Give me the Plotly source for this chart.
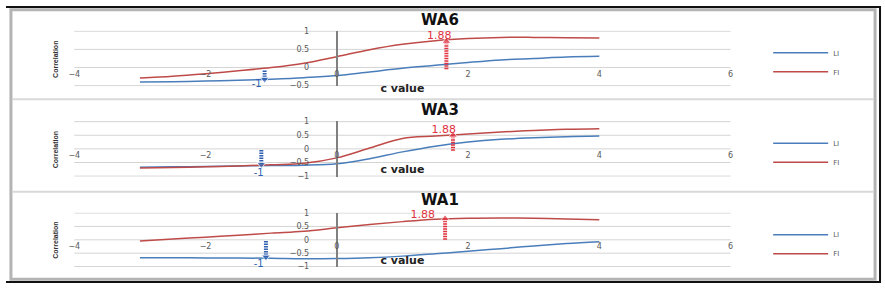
import plotly.graph_objects as go

# ---------------- data ----------------
c_values = [-3, -2.5, -2, -1.5, -1, -0.5, 0, 0.5, 1, 1.5, 2, 2.5, 3, 3.5, 4]
panel_titles = ["WA6", "WA3", "WA1"]

wa6_li = [-0.40, -0.39, -0.37, -0.35, -0.32, -0.28, -0.22, -0.12, -0.02, 0.06, 0.14, 0.21, 0.25, 0.29, 0.31]
wa6_fi = [-0.29, -0.24, -0.17, -0.09, 0.00, 0.12, 0.30, 0.49, 0.64, 0.74, 0.80, 0.83, 0.83, 0.82, 0.81]

wa3_li = [-0.67, -0.66, -0.65, -0.63, -0.61, -0.60, -0.55, -0.36, -0.11, 0.10, 0.25, 0.35, 0.41, 0.45, 0.47]
wa3_fi = [-0.70, -0.68, -0.66, -0.63, -0.58, -0.53, -0.33, 0.03, 0.38, 0.47, 0.55, 0.62, 0.68, 0.72, 0.74]

wa1_li = [-0.67, -0.67, -0.68, -0.68, -0.69, -0.71, -0.70, -0.67, -0.61, -0.52, -0.43, -0.33, -0.23, -0.14, -0.07]
wa1_fi = [-0.04, 0.03, 0.10, 0.17, 0.25, 0.32, 0.45, 0.57, 0.68, 0.77, 0.81, 0.82, 0.81, 0.78, 0.75]

li_series = [wa6_li, wa3_li, wa1_li]
fi_series = [wa6_fi, wa3_fi, wa1_fi]

x_ticks = [-4, -2, 0, 2, 4, 6]
x_range = [-4, 6]
y_ranges = [[-0.5, 1], [-1, 1], [-1, 1]]
y_ticks = [[-0.5, 0, 0.5, 1], [-1, -0.5, 0, 0.5, 1], [-1, -0.5, 0, 0.5, 1]]

# highlighted points (dotted arrows) and their labels
fi_mark_x = [1.67, 1.77, 1.65]
fi_mark_from = [-0.05, -0.07, 0.00]
fi_mark_to = [0.72, 0.50, 0.79]
fi_label = "1.88"
fi_label_x = [1.56, 1.63, 1.31]
fi_label_y = [0.86, 0.68, 0.93]

li_mark_x = [-1.10, -1.15, -1.08]
li_mark_from = [-0.08, -0.04, -0.04]
li_mark_to = [-0.32, -0.57, -0.64]
li_label = "-1"
li_label_x = [-1.22, -1.19, -1.19]
li_label_y = [-0.48, -0.89, -0.93]

# ---------------- layout geometry (pixels) ----------------
W, H = 885, 290
plot_left, plot_right = 69, 732
panel_px = [(28, 84), (121, 177), (215, 270)]      # pixel rows of top / bottom tick
title_px = [16, 109, 202]
ylabel_px = [57, 150, 243]
legend_px = [60, 153, 247]
PAD = 0.02  # small range padding

BLUE = "#4a7ebb"
RED = "#be4b48"
ARROW_RED = "#e0313f"
ARROW_BLUE = "#2f5fb0"
GRID = "#d4d4d4"
TICK_FONT = dict(family="DejaVu Sans", size=8, color="#595959")


def px_x(p):
    return p / W


def px_y(p):
    return 1 - p / H


fig = go.Figure()
layout = dict(
    width=W, height=H, autosize=False,
    margin=dict(l=0, r=0, t=0, b=0),
    paper_bgcolor="white", plot_bgcolor="white",
    showlegend=True,
)
annotations = []
shapes = []

xdom = [px_x(plot_left), px_x(plot_right)]

for i in range(3):
    sfx = "" if i == 0 else str(i + 1)
    xa, ya = "x" + sfx, "y" + sfx
    leg = "legend" + sfx
    top, bot = panel_px[i]
    y0, y1 = y_ranges[i]
    scale = (bot - top) / (y1 - y0)           # pixels per unit
    rng = [y0 - PAD, y1 + PAD]
    ydom = [px_y(bot + PAD * scale), px_y(top - PAD * scale)]
    # paper position of y = 0 and x = 0
    ypos = ydom[0] + (0 - rng[0]) / (rng[1] - rng[0]) * (ydom[1] - ydom[0])
    xpos = xdom[0] + (0 - x_range[0]) / (x_range[1] - x_range[0]) * (xdom[1] - xdom[0])

    layout["xaxis" + sfx] = dict(
        domain=xdom, range=x_range, anchor="free", position=ypos,
        tickvals=x_ticks, showgrid=False, zeroline=False, showline=False,
        ticks="", tickfont=TICK_FONT,
        title=dict(text="c value", font=dict(family="DejaVu Sans", size=11, color="#222", weight="bold"),
                   standoff=6),
    )
    layout["yaxis" + sfx] = dict(
        domain=ydom, range=rng, anchor="free", position=xpos,
        tickvals=y_ticks[i], showgrid=False,
        zeroline=False, showline=True, linecolor="#808080", linewidth=2,
        ticks="", tickfont=TICK_FONT, ticklabelstandoff=25,
    )
    layout[leg] = dict(
        x=px_x(770), y=px_y(legend_px[i]), xanchor="left", yanchor="middle",
        font=dict(family="DejaVu Sans", size=7, color="#595959"),
        itemwidth=55, bgcolor="rgba(0,0,0,0)", borderwidth=0, tracegroupgap=0,
    )

    # horizontal gridlines at each y tick, across the plot width
    for v in y_ticks[i]:
        shapes.append(dict(type="line", xref=xa + " domain", yref=ya,
                           x0=0, x1=1, y0=v, y1=v,
                           line=dict(color=GRID, width=1), layer="below"))

    fig.add_trace(go.Scatter(
        x=c_values, y=li_series[i], mode="lines", name="LI",
        line=dict(color=BLUE, width=1.5, shape="spline", smoothing=1.0),
        xaxis=xa, yaxis=ya, legend=leg,
    ))
    fig.add_trace(go.Scatter(
        x=c_values, y=fi_series[i], mode="lines", name="FI",
        line=dict(color=RED, width=1.5, shape="spline", smoothing=1.0),
        xaxis=xa, yaxis=ya, legend=leg,
    ))
    # dotted arrows
    fig.add_trace(go.Scatter(
        x=[fi_mark_x[i], fi_mark_x[i]], y=[fi_mark_from[i], fi_mark_to[i]],
        mode="lines+markers", showlegend=False, hoverinfo="skip",
        line=dict(color=ARROW_RED, width=4, dash="1.5px,1px"),
        marker=dict(symbol=["circle", "triangle-up"], size=[0, 8], color=ARROW_RED),
        xaxis=xa, yaxis=ya, cliponaxis=False,
    ))
    fig.add_trace(go.Scatter(
        x=[li_mark_x[i], li_mark_x[i]], y=[li_mark_from[i], li_mark_to[i]],
        mode="lines+markers", showlegend=False, hoverinfo="skip",
        line=dict(color=ARROW_BLUE, width=4, dash="1.5px,1px"),
        marker=dict(symbol=["circle", "triangle-down"], size=[0, 8], color=ARROW_BLUE),
        xaxis=xa, yaxis=ya, cliponaxis=False,
    ))
    fig.add_trace(go.Scatter(
        x=[fi_label_x[i]], y=[fi_label_y[i]], mode="text", text=[fi_label],
        textfont=dict(family="DejaVu Sans", size=11, color=ARROW_RED),
        showlegend=False, hoverinfo="skip", xaxis=xa, yaxis=ya, cliponaxis=False,
    ))
    fig.add_trace(go.Scatter(
        x=[li_label_x[i]], y=[li_label_y[i]], mode="text", text=[li_label],
        textfont=dict(family="DejaVu Sans", size=10, color=ARROW_BLUE),
        showlegend=False, hoverinfo="skip", xaxis=xa, yaxis=ya, cliponaxis=False,
    ))

    annotations.append(dict(
        text=panel_titles[i], xref="paper", yref="paper",
        x=px_x(438), y=px_y(title_px[i]), xanchor="center", yanchor="middle",
        showarrow=False, font=dict(family="DejaVu Sans", size=15, color="#111", weight="bold"),
    ))
    annotations.append(dict(
        text="Correlation", xref="paper", yref="paper",
        x=px_x(50), y=px_y(ylabel_px[i]), xanchor="center", yanchor="middle",
        textangle=-90, showarrow=False,
        font=dict(family="Liberation Sans", size=7, color="#333", weight="bold"),
    ))

# frame and separators
shapes.append(dict(type="rect", xref="paper", yref="paper",
                   x0=px_x(5), x1=px_x(878), y0=px_y(283), y1=px_y(6),
                   line=dict(color="#b4b4b4", width=3)))
shapes.append(dict(type="line", xref="paper", yref="paper",
                   x0=0, x1=px_x(884), y0=px_y(3), y1=px_y(3),
                   line=dict(color="#111", width=2)))
shapes.append(dict(type="line", xref="paper", yref="paper",
                   x0=0, x1=px_x(884), y0=px_y(286), y1=px_y(286),
                   line=dict(color="#111", width=2)))
shapes.append(dict(type="line", xref="paper", yref="paper",
                   x0=px_x(883), x1=px_x(883), y0=px_y(286), y1=px_y(3),
                   line=dict(color="#111", width=2)))
for sep in [98, 193]:
    shapes.append(dict(type="line", xref="paper", yref="paper",
                       x0=px_x(6), x1=px_x(877), y0=px_y(sep), y1=px_y(sep),
                       line=dict(color="#d9d9d9", width=2)))

layout["annotations"] = annotations
layout["shapes"] = shapes
fig.update_layout(**layout)

fig.write_html("out.html")
